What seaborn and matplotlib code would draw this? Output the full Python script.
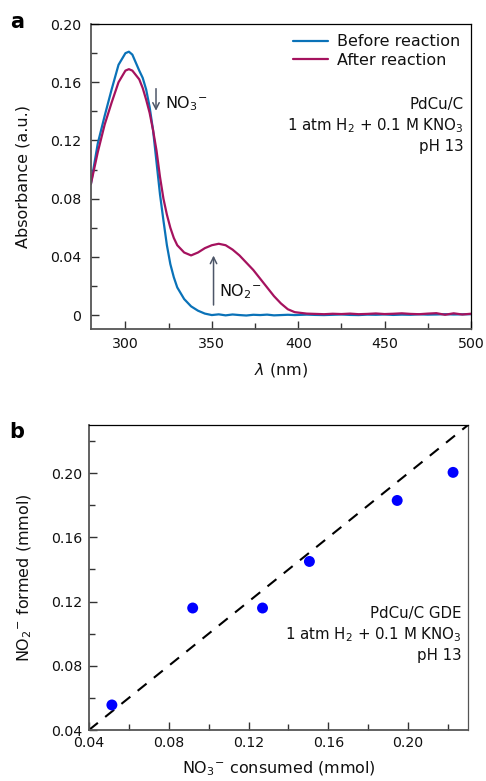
import numpy as np
import pandas as pd
import seaborn as sns
import matplotlib.pyplot as plt
from matplotlib.ticker import MultipleLocator

# UV-vis spectra (panel a)
wavelength = [280, 284, 288, 292, 296, 300, 302, 304, 308, 310, 312, 314, 316, 318, 320,
              322, 324, 326, 328, 330, 334, 338, 342, 346, 350, 354, 358, 362, 366, 370,
              374, 378, 382, 386, 390, 394, 398, 405, 410, 415, 420, 425, 430, 435, 440,
              445, 450, 455, 460, 465, 470, 475, 480, 485, 490, 495, 500]
before = [0.090, 0.118, 0.137, 0.155, 0.172, 0.180, 0.181, 0.179, 0.168, 0.163, 0.155, 0.143,
          0.127, 0.105, 0.083, 0.065, 0.048, 0.035, 0.026, 0.019, 0.011, 0.006, 0.003, 0.001,
          0.000, 0.0005, -0.0002, 0.0004, 0.000, -0.0003, 0.0002, 0.000, 0.0003, -0.0002, 0.000,
          0.0002, 0.000, 0.0003, 0.0001, 0.000, 0.0002, 0.0004, 0.0001, 0.000, 0.0003, 0.0002,
          0.0004, 0.0001, 0.0003, 0.0002, 0.0005, 0.0003, 0.0004, 0.0006, 0.0004, 0.0005, 0.0006]
after = [0.090, 0.112, 0.131, 0.146, 0.160, 0.168, 0.169, 0.168, 0.162, 0.156, 0.148, 0.139,
         0.127, 0.113, 0.095, 0.080, 0.069, 0.060, 0.053, 0.048, 0.043, 0.041, 0.043, 0.046,
         0.048, 0.049, 0.048, 0.045, 0.041, 0.036, 0.031, 0.025, 0.019, 0.013, 0.008, 0.004,
         0.002, 0.001, 0.0008, 0.0006, 0.0009, 0.0007, 0.0010, 0.0006, 0.0008, 0.0011, 0.0007,
         0.0009, 0.0012, 0.0008, 0.0006, 0.0010, 0.0013, 0.0002, 0.0012, 0.0004, 0.0009]

# NO3- consumed vs NO2- formed (panel b)
no3_consumed = [0.0515, 0.092, 0.127, 0.1505, 0.1945, 0.2225]
no2_formed = [0.0556, 0.116, 0.116, 0.145, 0.183, 0.2005]

blue = '#0a72b8'
magenta = '#a5125e'
arrow_col = '#4d5668'
txt = 11.5
cond_txt = 10.8
tick_txt = 10.2

sns.set_style('ticks')
plt.rcParams['font.family'] = ['DejaVu Sans']
plt.rcParams['mathtext.default'] = 'regular'
plt.rcParams['font.size'] = txt
plt.rcParams['text.color'] = '#111111'
plt.rcParams['axes.labelcolor'] = '#111111'
plt.rcParams['xtick.labelcolor'] = '#111111'
plt.rcParams['ytick.labelcolor'] = '#111111'

fig = plt.figure(figsize=(4.86, 7.81), dpi=100)
ax1 = fig.add_axes([0.187, 0.5787, 0.782, 0.3905])
ax2 = fig.add_axes([0.183, 0.0653, 0.780, 0.3905])

spec = pd.DataFrame({'wl': wavelength, 'before': before, 'after': after})
sns.lineplot(data=spec, x='wl', y='before', color=blue, lw=1.6, label='Before reaction', ax=ax1)
sns.lineplot(data=spec, x='wl', y='after', color=magenta, lw=1.6, label='After reaction', ax=ax1)
ax1.set_xlim(280, 500)
ax1.set_ylim(-0.0096, 0.20)
ax1.xaxis.set_major_locator(MultipleLocator(50))
ax1.xaxis.set_minor_locator(MultipleLocator(25))
ax1.yaxis.set_minor_locator(MultipleLocator(0.02))
ax1.set_yticks([0, 0.04, 0.08, 0.12, 0.16, 0.20], ['0', '0.04', '0.08', '0.12', '0.16', '0.20'])
ax1.set_xlabel(r'$\it{\lambda}$ (nm)', fontsize=txt, labelpad=7)
ax1.set_ylabel('Absorbance (a.u.)', fontsize=txt, labelpad=14)
ax1.legend(loc='upper right', frameon=False, fontsize=txt, handlelength=2.2,
           borderaxespad=0.25, labelspacing=0.2, handletextpad=0.6)

ax1.annotate('', xy=(317.7, 0.1385), xytext=(317.7, 0.1575),
             arrowprops=dict(arrowstyle='->', color=arrow_col, lw=1.1))
ax1.text(323, 0.145, r'NO$_3$$^{-}$', fontsize=txt, va='center')
ax1.annotate('', xy=(351, 0.0428), xytext=(351, 0.005),
             arrowprops=dict(arrowstyle='->', color=arrow_col, lw=1.1))
ax1.text(354, 0.016, r'NO$_2$$^{-}$', fontsize=txt, va='center')
ax1.text(0.982, 0.76, 'PdCu/C\n1 atm H$_2$ + 0.1 M KNO$_3$\npH 13', transform=ax1.transAxes,
         ha='right', va='top', fontsize=cond_txt, linespacing=1.3)

sns.lineplot(x=[0.04, 0.23], y=[0.04, 0.23], color='black', lw=1.5, ax=ax2,
             linestyle=(0, (5.5, 4.5)))
sns.scatterplot(x=no3_consumed, y=no2_formed, color='#0000ff', s=62, edgecolor='none', ax=ax2, zorder=3)
ax2.set_xlim(0.04, 0.23)
ax2.set_ylim(0.04, 0.23)
ax2.xaxis.set_major_locator(MultipleLocator(0.04))
ax2.xaxis.set_minor_locator(MultipleLocator(0.02))
ax2.yaxis.set_major_locator(MultipleLocator(0.04))
ax2.yaxis.set_minor_locator(MultipleLocator(0.02))
ax2.xaxis.set_major_formatter(lambda v, p: f'{v:.2f}')
ax2.yaxis.set_major_formatter(lambda v, p: f'{v:.2f}')
ax2.set_xlabel(r'NO$_3$$^{-}$ consumed (mmol)', fontsize=txt, labelpad=7)
ax2.set_ylabel(r'NO$_2$$^{-}$ formed (mmol)', fontsize=txt, labelpad=12)
ax2.text(0.982, 0.405, 'PdCu/C GDE\n1 atm H$_2$ + 0.1 M KNO$_3$\npH 13', transform=ax2.transAxes,
         ha='right', va='top', fontsize=cond_txt, linespacing=1.3)

for ax in (ax1, ax2):
    ax.tick_params(which='both', direction='in', labelsize=tick_txt, color='#333333')
    ax.tick_params(which='major', length=6, width=1)
    ax.tick_params(which='minor', length=4, width=1)
    for side in ('left', 'bottom'):
        ax.spines[side].set_color('#555555')
        ax.spines[side].set_linewidth(1.3)
    for side in ('top', 'right'):
        ax.spines[side].set_visible(True)
        ax.spines[side].set_color('black')
        ax.spines[side].set_linewidth(0.9)
ax1.tick_params(axis='y', pad=7)
ax1.tick_params(axis='x', pad=6)
ax2.spines['right'].set_color('#555555')
ax2.tick_params(axis='x', pad=4)
ax2.tick_params(axis='y', pad=5)

fig.text(0.02, 0.985, 'a', fontsize=15, fontweight='bold', va='top', color='black')
fig.text(0.02, 0.46, 'b', fontsize=15, fontweight='bold', va='top', color='black')

fig.savefig('out.png', dpi=100)
